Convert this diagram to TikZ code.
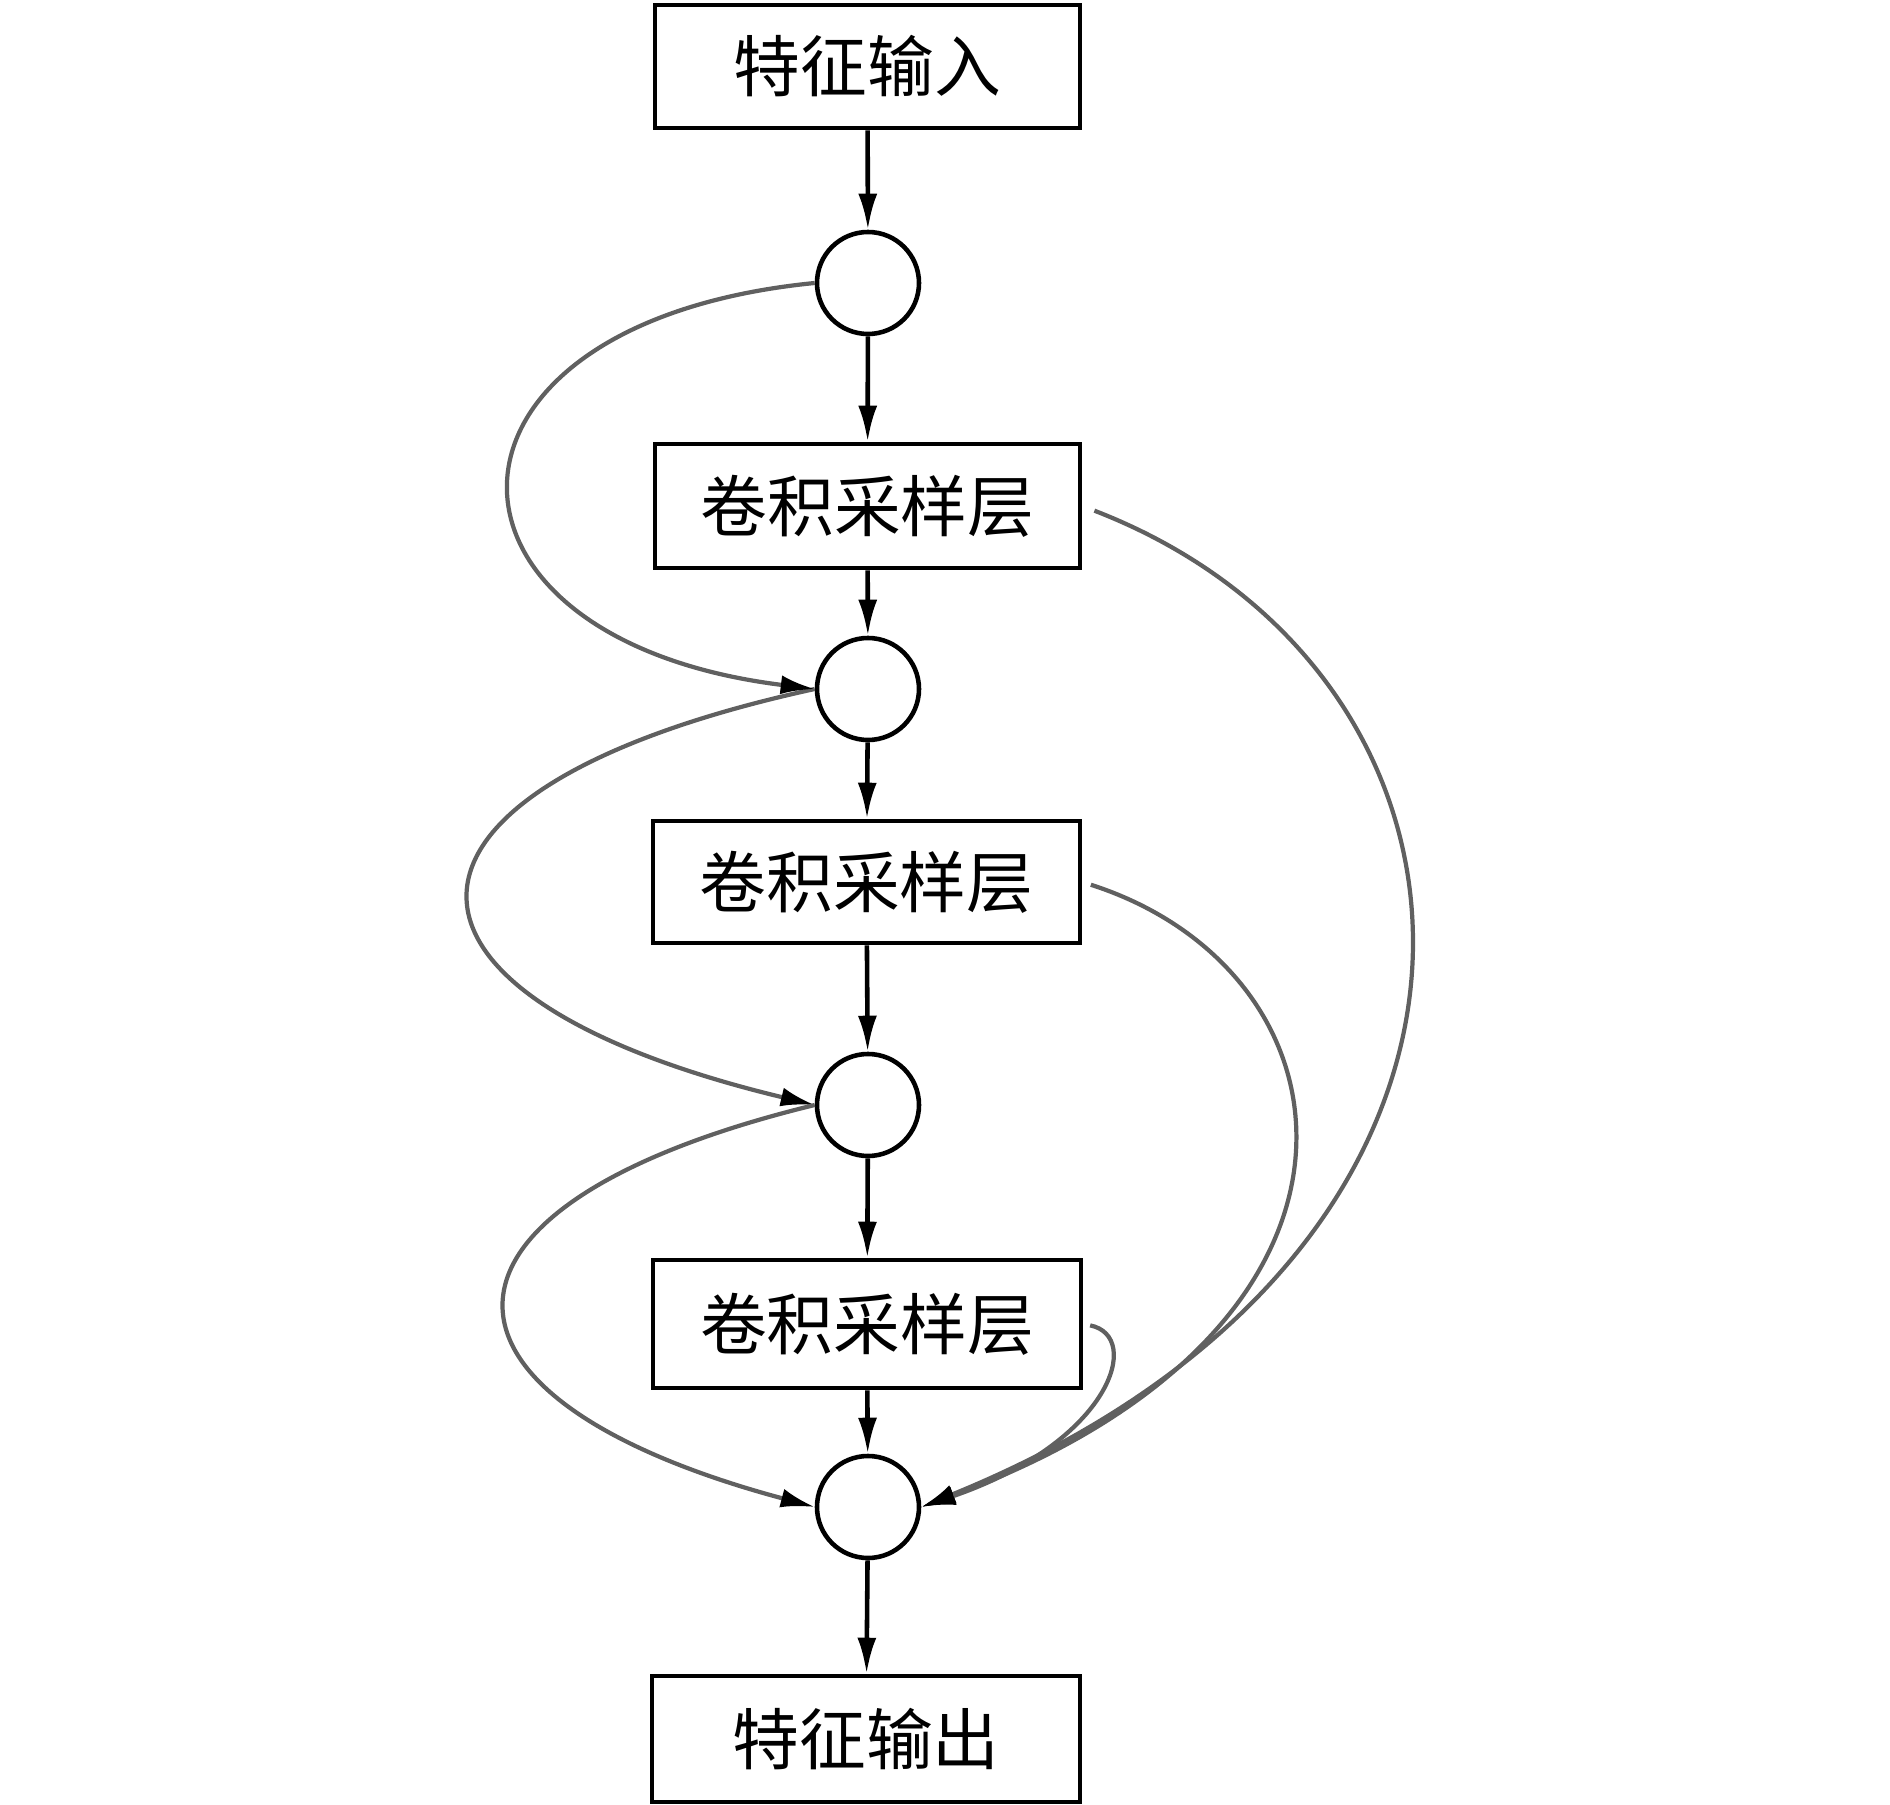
\documentclass[tikz,border=0pt]{standalone}
\usepackage{fontspec}
\usepackage{tikz}
\usepackage{xcolor}
\usetikzlibrary{arrows.meta}
\newfontfamily\cjk{Noto Sans CJK SC}
\definecolor{skipgray}{HTML}{606060}

\begin{document}
\begin{tikzpicture}[>={Latex[length=3.6mm,width=1.9mm]},
        box/.style={draw, line width=1.3pt, inner sep=0pt, font=\cjk\fontsize{19pt}{23pt}\selectfont},
        junc/.style={draw, circle, line width=1.3pt, minimum size=1.02cm, inner sep=0pt},
        flow/.style={->, line width=1.3pt},
        skip/.style={-{Latex[length=3.4mm,width=1.9mm,color=black]}, draw=skipgray, line width=1.2pt}]
        \useasboundingbox (0,0) rectangle (18.9,-18.05);
        \node[box, minimum width=4.25cm, minimum height=1.23cm] (in) at (8.675,-0.665) {特征输入};
        \node[junc] (c1) at (8.68,-2.83) {};
        \node[box, minimum width=4.25cm, minimum height=1.24cm] (l1) at (8.675,-5.06) {卷积采样层};
        \node[junc] (c2) at (8.68,-6.89) {};
        \node[box, minimum width=4.27cm, minimum height=1.22cm] (l2) at (8.665,-8.82) {卷积采样层};
        \node[junc] (c3) at (8.68,-11.05) {};
        \node[box, minimum width=4.28cm, minimum height=1.28cm] (l3) at (8.67,-13.24) {卷积采样层};
        \node[junc] (c4) at (8.68,-15.07) {};
        \node[box, minimum width=4.28cm, minimum height=1.26cm] (out) at (8.66,-17.39) {特征输出};
        % main path
        \draw[flow] (in) -- (c1);
        \draw[flow] (c1) -- (l1);
        \draw[flow] (l1) -- (c2);
        \draw[flow] (c2) -- (l2);
        \draw[flow] (l2) -- (c3);
        \draw[flow] (c3) -- (l3);
        \draw[flow] (l3) -- (c4);
        \draw[flow] (c4) -- (out);
        % left skips
        \draw[skip] (c2.west) .. controls +(-4.59,-1.0) and +(-4.59,1.1) .. (c3.west);
        \draw[skip] (c3.west) .. controls +(-4.11,-1.0) and +(-4.11,1.1) .. (c4.west);
        \draw[skip] (c1.west) .. controls +(-4.05,-0.4) and +(-4.05,0.5) .. (c2.west);
        % right skips
        \draw[skip, shorten <=1.3mm] (l1.east) .. controls +(4.4,-1.7) and +(6.4,2.6) .. (c4.east);
        \draw[skip, shorten <=0.9mm] (l2.east) .. controls +(2.8,-0.9) and +(4.9,1.8) .. (c4.east);
        \draw[skip, shorten <=0.7mm] (l3.east) .. controls +(0.6,-0.12) and +(1.9,0.65) .. (c4.east);
\end{tikzpicture}
\end{document}
